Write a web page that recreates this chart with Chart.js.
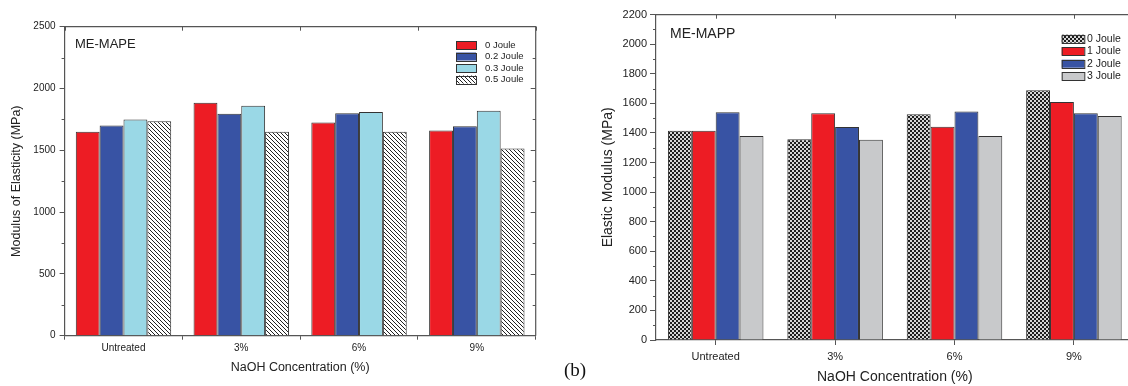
<!DOCTYPE html>
<html>
<head>
<meta charset="utf-8">
<script src="https://cdn.jsdelivr.net/npm/chart.js@4.4.1/dist/chart.umd.min.js"></script>
<style>
  html, body { margin: 0; padding: 0; background: #fff; width: 1128px; height: 386px; overflow: hidden; }
  #wrapA { position: absolute; left: 0; top: 0; width: 560px; height: 386px; }
  #wrapB { position: absolute; left: 560px; top: 0; width: 600px; height: 386px; }
  #tagB { position: absolute; left: 564px; top: 359px; font: 19px "Liberation Serif", "Times New Roman", serif; color: #111; }
</style>
</head>
<body>
<div id="wrapA"><canvas id="chartA" width="560" height="386"></canvas></div>
<div id="wrapB"><canvas id="chartB" width="600" height="386"></canvas></div>
<div id="tagB">(b)</div>
<script>
// data
const categories = ["Untreated", "3%", "6%", "9%"];

const mapeSeries = ["0 Joule", "0.2 Joule", "0.3 Joule", "0.5 Joule"];
const mape0J = [1650, 1885, 1725, 1660];
const mape02J = [1700, 1795, 1800, 1695];
const mape03J = [1750, 1860, 1810, 1820];
const mape05J = [1735, 1650, 1650, 1515];

const mappSeries = ["0 Joule", "1 Joule", "2 Joule", "3 Joule"];
const mapp0J = [1415, 1358, 1527, 1689];
const mapp1J = [1415, 1533, 1443, 1610];
const mapp2J = [1540, 1440, 1545, 1533];
const mapp3J = [1380, 1355, 1380, 1515];

const mapeTicks = { min: 0, max: 2500, step: 500 };
const mappTicks = { min: 0, max: 2200, step: 200 };

Chart.defaults.font.family = '"Liberation Sans", Arial, sans-serif';
Chart.defaults.color = "#222";

const AXIS = "#555";

function hatch(ctx) {
  const c = document.createElement("canvas");
  c.width = 4; c.height = 4;
  const g = c.getContext("2d");
  g.fillStyle = "#fff"; g.fillRect(0, 0, 4, 4);
  g.fillStyle = "#222";
  for (let i = 0; i < 4; i++) g.fillRect(i, i, 1, 1);
  return ctx.createPattern(c, "repeat");
}

function checker(ctx) {
  const c = document.createElement("canvas");
  c.width = 4; c.height = 4;
  const g = c.getContext("2d");
  g.fillStyle = "#1e1e1e"; g.fillRect(0, 0, 4, 4);
  g.fillStyle = "#d6d6d6";
  g.fillRect(2, 0, 2, 2); g.fillRect(0, 2, 2, 2);
  return ctx.createPattern(c, "repeat");
}

// box frame, mirrored/minor ticks, in-plot legend and panel name
const framePlugin = {
  id: "frame",
  afterDatasetsDraw(chart, args, o) {
    const { ctx, chartArea: a, scales: { x, y } } = chart;
    ctx.save();
    ctx.strokeStyle = AXIS;
    ctx.lineWidth = 1.2;
    ctx.beginPath();
    ctx.moveTo(a.left, a.top);
    ctx.lineTo(a.right, a.top);
    ctx.lineTo(a.right, a.bottom);
    ctx.stroke();

    ctx.lineWidth = 1;
    ctx.beginPath();
    for (let v = y.min; v <= y.max; v += o.minorStep) {
      const py = Math.round(y.getPixelForValue(v)) + 0.5;
      const major = v % o.majorStep === 0;
      if (!major) {
        ctx.moveTo(a.left - 3, py); ctx.lineTo(a.left, py);
        ctx.moveTo(a.right, py); ctx.lineTo(a.right - 3, py);
      } else if (v > y.min && v < y.max) {
        ctx.moveTo(a.right, py); ctx.lineTo(a.right - 5, py);
      }
    }
    const n = categories.length;
    for (let i = 0; i < n + (o.edgeTicks ? 1 : 0); i++) {
      const v = o.edgeTicks ? i - 0.5 : i;
      const px = Math.round(x.getPixelForValue(v)) + 0.5;
      ctx.moveTo(px, a.top); ctx.lineTo(px, a.top + 4);
    }
    ctx.stroke();
    ctx.restore();
  },
  afterDraw(chart, args, o) {
    const { ctx } = chart;
    const L = o.legend;
    ctx.save();
    ctx.font = L.size + 'px "Liberation Sans", Arial, sans-serif';
    ctx.textBaseline = "middle";
    ctx.textAlign = "left";
    chart.data.datasets.forEach((ds, i) => {
      const cy = L.y + i * L.gap;
      ctx.fillStyle = ds.backgroundColor;
      ctx.fillRect(L.x, cy - L.h / 2, L.w, L.h);
      ctx.strokeStyle = "#333";
      ctx.lineWidth = 1;
      ctx.strokeRect(L.x + 0.5, Math.round(cy - L.h / 2) + 0.5, L.w, L.h);
      ctx.fillStyle = "#222";
      ctx.fillText(ds.label, L.textX, cy);
    });
    ctx.font = o.name.size + 'px "Liberation Sans", Arial, sans-serif';
    ctx.fillText(o.name.text, o.name.x, o.name.y);
    ctx.restore();
  }
};

function yScale(t, fontSize, titleText, titleSize, titlePad, width, tickLen, tickPad) {
  return {
    min: t.min, max: t.max,
    ticks: { stepSize: t.step, font: { size: fontSize }, padding: tickPad, color: "#222", callback: v => String(v) },
    grid: { drawOnChartArea: false, drawTicks: true, tickLength: tickLen, tickColor: AXIS, tickWidth: 1 },
    border: { display: true, color: AXIS, width: 1.2 },
    title: { display: true, text: titleText, font: { size: titleSize }, color: "#222", padding: { top: titlePad, bottom: 0 } },
    afterFit(s) { s.width = width; }
  };
}

function xScale(fontSize, titleSize, height, tickLen, tickPad, edge) {
  return {
    offset: true,
    ticks: { font: { size: fontSize }, padding: tickPad, maxRotation: 0, color: "#222" },
    grid: { offset: edge, drawOnChartArea: false, drawTicks: true, tickLength: tickLen, tickColor: AXIS, tickWidth: 1 },
    border: { display: true, color: AXIS, width: 1.2 },
    title: { display: true, text: "NaOH Concentration (%)", font: { size: titleSize }, color: "#222", padding: { top: 0, bottom: 0 } },
    afterFit(s) { s.height = height; }
  };
}

const ctxA = document.getElementById("chartA").getContext("2d");
const ctxB = document.getElementById("chartB").getContext("2d");

new Chart(ctxA, {
  type: "bar",
  data: {
    labels: categories,
    datasets: [
      { label: mapeSeries[0], data: mape0J, backgroundColor: "#ED1C24" },
      { label: mapeSeries[1], data: mape02J, backgroundColor: "#3853A4" },
      { label: mapeSeries[2], data: mape03J, backgroundColor: "#9AD8E6" },
      { label: mapeSeries[3], data: mape05J, backgroundColor: hatch(ctxA) }
    ]
  },
  options: {
    responsive: false,
    animation: false,
    layout: { padding: { left: 0, right: 24.3, top: 26.7, bottom: 10.5 } },
    datasets: { bar: { categoryPercentage: 0.81, barPercentage: 1, borderWidth: 1, borderColor: "#333" } },
    plugins: {
      legend: { display: false },
      tooltip: { enabled: false },
      frame: {
        minorStep: 250, majorStep: 500, edgeTicks: true,
        legend: { x: 456, y: 45, gap: 11.5, w: 20, h: 8, textX: 485, size: 9.5 },
        name: { text: "ME-MAPE", x: 75, y: 44, size: 13 }
      }
    },
    scales: {
      x: xScale(10, 12.5, 39.8, 4, 3, true),
      y: yScale(mapeTicks, 10, "Modulus of Elasticity (MPa)", 12.5, 9.5, 64.6, 5, 4)
    }
  },
  plugins: [framePlugin]
});

new Chart(ctxB, {
  type: "bar",
  data: {
    labels: categories,
    datasets: [
      { label: mappSeries[0], data: mapp0J, backgroundColor: checker(ctxB) },
      { label: mappSeries[1], data: mapp1J, backgroundColor: "#ED1C24" },
      { label: mappSeries[2], data: mapp2J, backgroundColor: "#3853A4" },
      { label: mappSeries[3], data: mapp3J, backgroundColor: "#C8C9CB" }
    ]
  },
  options: {
    responsive: false,
    animation: false,
    layout: { padding: { left: 0, right: 26.4, top: 14.7, bottom: 0.6 } },
    datasets: { bar: { categoryPercentage: 0.8, barPercentage: 1, borderWidth: 1, borderColor: "#333" } },
    plugins: {
      legend: { display: false },
      tooltip: { enabled: false },
      frame: {
        minorStep: 100, majorStep: 200, edgeTicks: false,
        legend: { x: 501.7, y: 38.7, gap: 12.5, w: 22.6, h: 8, textX: 527, size: 10.5 },
        name: { text: "ME-MAPP", x: 110, y: 34, size: 14 }
      }
    },
    scales: {
      x: xScale(11, 14, 45.4, 5, 5, false),
      y: yScale(mappTicks, 11, "Elastic Modulus (MPa)", 14, 39.6, 96, 6, 3)
    }
  },
  plugins: [framePlugin]
});
</script>
</body>
</html>
